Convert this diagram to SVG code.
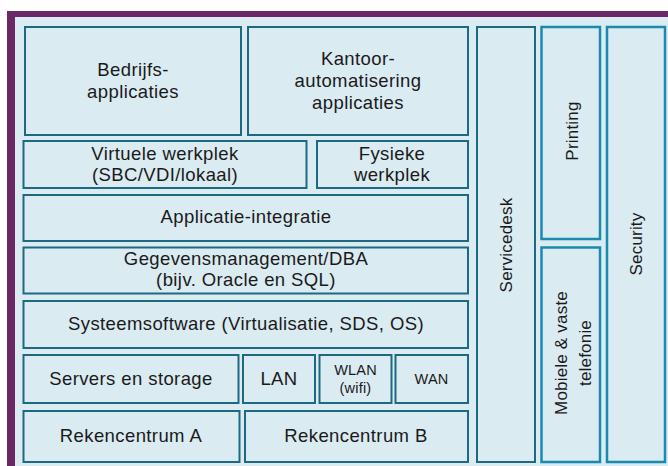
<svg xmlns="http://www.w3.org/2000/svg" width="668" height="466" viewBox="0 0 668 466">
<style>
.bg{fill:#DAEBF2}
.frame{fill:#6B2866}
.box{fill:#DAEBF2;stroke:#1D6A80;stroke-width:2}
.vbox{fill:#DAEBF2;stroke:#1A8AAE;stroke-width:2.5}
text{font-family:"Liberation Sans",Arial,sans-serif;font-size:18.5px;letter-spacing:0.4px;fill:#1a1a1a;text-anchor:middle}
.sm{font-size:14.5px;letter-spacing:0.2px}
.v{font-size:17px;letter-spacing:0.2px}
</style>
<rect x="0" y="0" width="668" height="466" fill="#ffffff"/>
<rect class="frame" x="7" y="11" width="661" height="455"/>
<rect class="bg" x="15" y="17" width="653" height="449"/>
<g id="bedrijfs"><rect class="box" x="25" y="27" width="216" height="108"/><text x="133" y="76">Bedrijfs-</text><text x="133" y="97.5">applicaties</text></g>
<g id="kantoor"><rect class="box" x="248" y="27" width="220" height="108"/><text x="358" y="65">Kantoor-</text><text x="358" y="87">automatisering</text><text x="358" y="109">applicaties</text></g>
<g id="virtuele"><rect class="box" x="23.5" y="141" width="283" height="47"/><text x="165" y="159.5">Virtuele werkplek</text><text x="165" y="181">(SBC/VDI/lokaal)</text></g>
<g id="fysieke"><rect class="box" x="317" y="141" width="151" height="47"/><text x="392" y="159.5">Fysieke</text><text x="392" y="181">werkplek</text></g>
<g id="applicatie"><rect class="box" x="23.5" y="195" width="444.5" height="46"/><text x="246" y="223">Applicatie-integratie</text></g>
<g id="gegevens"><rect class="box" x="23.5" y="247.5" width="444.5" height="46"/><text x="246" y="264.5">Gegevensmanagement/DBA</text><text x="246" y="286">(bijv. Oracle en SQL)</text></g>
<g id="systeem"><rect class="box" x="23.5" y="301" width="444.5" height="47"/><text x="246" y="330">Systeemsoftware (Virtualisatie, SDS, OS)</text></g>
<g id="servers"><rect class="box" x="23.5" y="355" width="215" height="48"/><text x="131" y="385">Servers en storage</text></g>
<g id="lan"><rect class="box" x="243" y="355" width="72" height="48"/><text x="279" y="385">LAN</text></g>
<g id="wlan"><rect class="box" x="319.5" y="355" width="72" height="48"/><text class="sm" x="355.5" y="375">WLAN</text><text class="sm" x="355.5" y="393">(wifi)</text></g>
<g id="wan"><rect class="box" x="395.5" y="355" width="72.5" height="48"/><text class="sm" x="431.5" y="384">WAN</text></g>
<g id="rekenA"><rect class="box" x="23.5" y="411" width="216" height="51"/><text x="131" y="442">Rekencentrum A</text></g>
<g id="rekenB"><rect class="box" x="245" y="411" width="223" height="51"/><text x="356" y="442">Rekencentrum B</text></g>
<g id="servicedesk"><rect class="box" x="477" y="27" width="58" height="435"/><text class="v" x="506" y="245" transform="rotate(-90 506 245)" dy="6">Servicedesk</text></g>
<g id="printing"><rect class="vbox" x="541.5" y="27" width="58.5" height="212"/><text class="v" x="572" y="131" transform="rotate(-90 572 131)" dy="6">Printing</text></g>
<g id="mobiele"><rect class="vbox" x="541.5" y="247.5" width="58.5" height="214.5"/><text class="v" x="567" y="353" transform="rotate(-90 567 353)">Mobiele &amp; vaste</text><text class="v" x="591" y="353" transform="rotate(-90 591 353)">telefonie</text></g>
<g id="security"><rect class="vbox" x="607" y="27" width="58" height="435"/><text class="v" x="636" y="244" transform="rotate(-90 636 244)" dy="6">Security</text></g>
<g id="connectors"></g>
</svg>
